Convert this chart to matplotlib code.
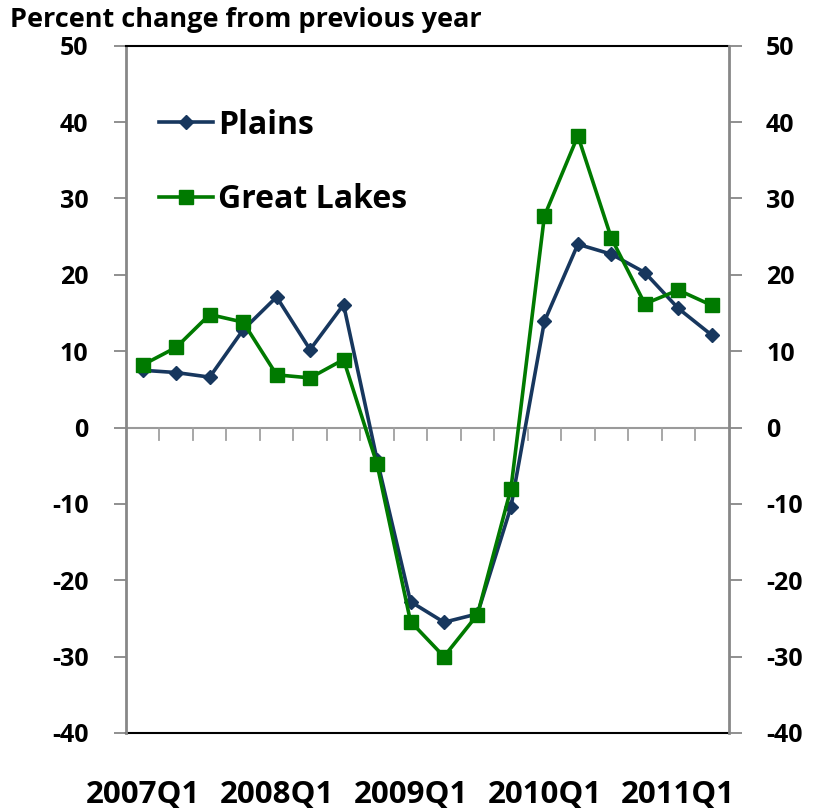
import matplotlib
matplotlib.use("Agg")
import matplotlib.pyplot as plt
import matplotlib.transforms as mtransforms
import numpy as np

plt.rcParams['font.family'] = ['Open Sans', 'DejaVu Sans']
plt.rcParams['axes.unicode_minus'] = False

quarters = ["2007Q1", "2007Q2", "2007Q3", "2007Q4",
            "2008Q1", "2008Q2", "2008Q3", "2008Q4",
            "2009Q1", "2009Q2", "2009Q3", "2009Q4",
            "2010Q1", "2010Q2", "2010Q3", "2010Q4",
            "2011Q1", "2011Q2"]
plains = [7.5, 7.2, 6.6, 12.8, 17.1, 10.2, 16.1, -4.2,
          -22.8, -25.5, -24.4, -10.4, 13.9, 24.0, 22.7, 20.3,
          15.6, 12.1]
great_lakes = [8.2, 10.5, 14.8, 13.8, 6.9, 6.5, 8.9, -4.8,
               -25.4, -30.0, -24.5, -8.0, 27.7, 38.2, 24.8, 16.2,
               18.0, 16.0]
labeled_quarters = ["2007Q1", "2008Q1", "2009Q1", "2010Q1", "2011Q1"]
y_ticks = [-40, -30, -20, -10, 0, 10, 20, 30, 40, 50]

navy = "#17375E"
green = "#007A00"
grey = "#878787"

fig = plt.figure(figsize=(8.16, 8.10), dpi=100)
ax = fig.add_axes([126 / 816, 1 - 733 / 810, (728.5 - 126) / 816, (733 - 45.7) / 810])

x = np.arange(len(quarters))
ax.plot(x, plains, color=navy, lw=2.6, marker="D", ms=7.5, mec=navy, mfc=navy,
        label="Plains", zorder=3)
ax.plot(x, great_lakes, color=green, lw=2.6, marker="s", ms=10, mec=green, mfc=green,
        label="Great Lakes", zorder=4)

ax.set_xlim(-0.5, len(quarters) - 0.5)
ax.set_ylim(-40, 50)

# frame: dark top/bottom, grey value axes
ax.spines["top"].set_color("black")
ax.spines["top"].set_linewidth(1.5)
ax.spines["left"].set_color(grey)
ax.spines["left"].set_linewidth(2)
ax.spines["right"].set_visible(False)
ax.spines["bottom"].set_visible(False)
ax.axhline(-40, color="black", lw=1.5, zorder=2, clip_on=False)

# category axis crossing at zero with boundary tick marks
ax.axhline(0, color="#9A9A9A", lw=1.5, zorder=1)
for b in np.arange(0.5, len(quarters) - 0.5, 1.0):
    ax.plot([b, b], [0, -1.6], color="#A0A0A0", lw=1.3, zorder=1)
ax.set_xticks([])

ax.set_yticks(y_ticks)
ax.tick_params(axis="y", which="major", direction="out", length=9, width=1.3,
               color=grey, pad=18, labelsize=18)
for lab in ax.get_yticklabels():
    lab.set_fontweight("bold")

# secondary value axis on the right
ax2 = ax.twinx()
ax2.set_ylim(-40, 50)
ax2.set_yticks(y_ticks)
for side in ("top", "bottom", "left"):
    ax2.spines[side].set_visible(False)
ax2.spines["right"].set_color(grey)
ax2.spines["right"].set_linewidth(2)
ax2.tick_params(axis="y", direction="out", length=9, width=1.3, color=grey,
                pad=18, labelsize=18)
for lab in ax2.get_yticklabels():
    lab.set_fontweight("bold")
    lab.set_horizontalalignment("left")

# year labels under the plot
trans = mtransforms.blended_transform_factory(ax.transData, fig.transFigure)
for q in labeled_quarters:
    ax.text(quarters.index(q), 1 - 795 / 810, q, transform=trans, ha="center",
            va="center", fontsize=22.5, fontweight="bold")

fig.text(10 / 816, 1 - 20 / 810, "Percent change from previous year",
         fontsize=19.5, fontweight="bold", ha="left", va="center")

leg = ax.legend(loc="upper left", bbox_to_anchor=(0.033, 0.927), frameon=False,
                fontsize=23, handlelength=1.7, handletextpad=0.15,
                labelspacing=1.29, borderaxespad=0)
for t in leg.get_texts():
    t.set_fontweight("bold")

fig.savefig("out.png", dpi=100)
